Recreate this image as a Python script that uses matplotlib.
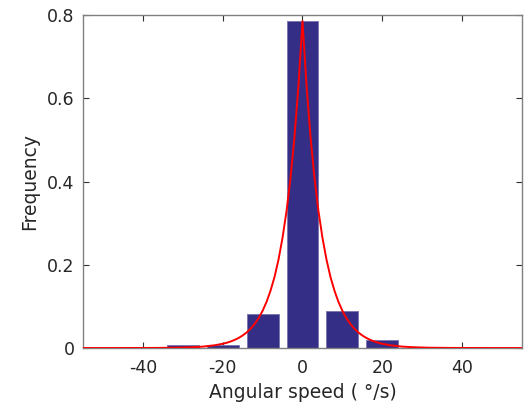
import matplotlib
matplotlib.use("Agg")
import matplotlib.pyplot as plt

# histogram of angular speed (bin centres, relative frequency)
bin_centres = [-30, -20, -10, 0, 10, 20]
bin_freq = [0.008, 0.008, 0.081, 0.785, 0.089, 0.019]

# fitted curve, points (symmetric about 0)
half_x = [0, 1, 2, 3, 4, 5, 6, 7, 8, 9, 10, 11, 12, 13, 14, 15, 16, 17, 18,
          19, 20, 22, 25, 28, 32, 36, 40, 48, 55]
half_y = [0.785, 0.632, 0.508, 0.409, 0.329, 0.265, 0.213, 0.171, 0.138,
          0.111, 0.0893, 0.0718, 0.0578, 0.0465, 0.0374, 0.0301, 0.0242,
          0.0195, 0.0157, 0.0126, 0.0102, 0.0066, 0.0034, 0.0018, 0.0007,
          0.0003, 0.0001, 0.0, 0.0]
curve_x = [-v for v in half_x[::-1]] + half_x[1:]
curve_y = half_y[::-1] + half_y[1:]

x_ticks = [-40, -20, 0, 20, 40]
y_ticks = [0, 0.2, 0.4, 0.6, 0.8]
y_ticklabels = ["0", "0.2", "0.4", "0.6", "0.8"]

plt.rcParams['font.family'] = ['DejaVu Sans']
plt.rcParams['axes.unicode_minus'] = False
fig = plt.figure(figsize=(5.27, 4.05), dpi=100)
ax = fig.add_axes([0.1575, 0.1407, 0.833, 0.8223])

ax.bar(bin_centres, bin_freq, width=8, color='#352e86', edgecolor='#7d79b0',
       linewidth=0.7, zorder=2)
ax.plot(curve_x, curve_y, color='red', linewidth=1.4, zorder=3)

ax.set_xlim(-55, 55)
ax.set_ylim(0, 0.8)
ax.set_xticks(x_ticks)
ax.set_yticks(y_ticks)
ax.set_yticklabels(y_ticklabels)

for s in ax.spines.values():
    s.set_color('#808080')
    s.set_linewidth(1.0)
ax.tick_params(direction='in', length=4, width=0.8, color='#303030',
               top=True, right=True, labelsize=12.5, labelcolor='#262626')
ax.tick_params(axis='x', pad=8)
ax.tick_params(axis='y', pad=6)

ax.set_xlabel('Angular speed ( °/s)', fontsize=13.5, color='#262626', labelpad=4)
ax.set_ylabel('Frequency', fontsize=13.5, color='#262626', labelpad=6)

fig.savefig('out.png', dpi=100)
